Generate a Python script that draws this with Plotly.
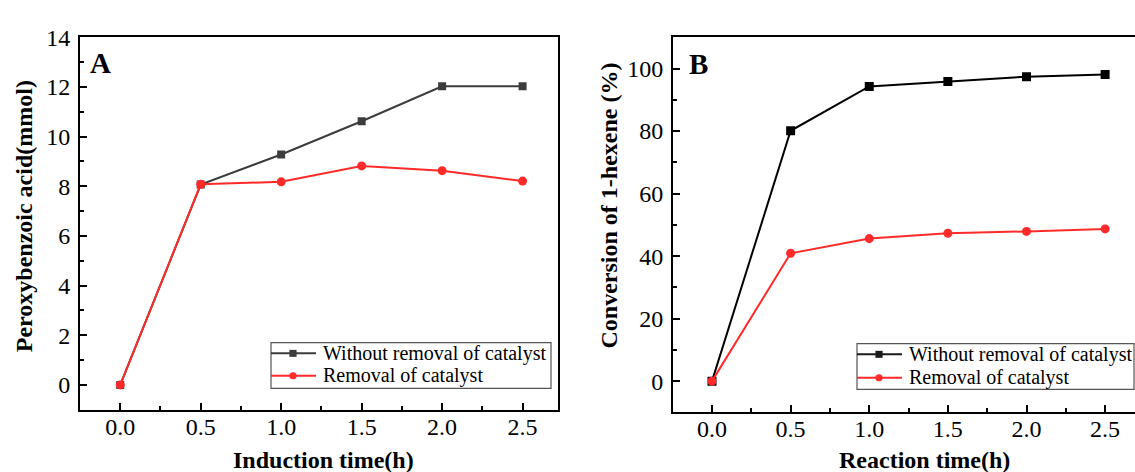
import plotly.graph_objects as go

# Panel A: peroxybenzoic acid produced during induction
time_a = [0.0, 0.5, 1.0, 1.5, 2.0, 2.5]
acid_with_cat = [0.0, 8.07, 9.28, 10.62, 12.03, 12.03]
acid_removed = [0.0, 8.08, 8.18, 8.82, 8.63, 8.21]

# Panel B: 1-hexene conversion during reaction
time_b = [0.0, 0.5, 1.0, 1.5, 2.0, 2.5]
conv_with_cat = [0.0, 80.1, 94.3, 95.9, 97.4, 98.1]
conv_removed = [0.0, 40.9, 45.6, 47.3, 47.9, 48.7]

label_with = "Without removal of catalyst"
label_removed = "Removal of catalyst"

W, H = 1135, 472
SERIF = "Liberation Serif, Times New Roman, serif"
RED = "#ff2a2a"
GREY = "#3c3c3c"


def px(x):
    return x / W


def py(y):
    return 1 - y / H


fig = go.Figure()

# ---- panel A traces
fig.add_trace(go.Scatter(
    x=time_a, y=acid_with_cat, name=label_with, mode="lines+markers",
    line=dict(color=GREY, width=2), marker=dict(symbol="square", size=8, color=GREY),
    xaxis="x", yaxis="y"))
fig.add_trace(go.Scatter(
    x=time_a, y=acid_removed, name=label_removed, mode="lines+markers",
    line=dict(color=RED, width=2), marker=dict(symbol="circle", size=9, color=RED),
    xaxis="x", yaxis="y"))

# ---- panel B traces
fig.add_trace(go.Scatter(
    x=time_b, y=conv_with_cat, name=label_with, mode="lines+markers",
    line=dict(color="black", width=2), marker=dict(symbol="square", size=9, color="black"),
    xaxis="x2", yaxis="y2"))
fig.add_trace(go.Scatter(
    x=time_b, y=conv_removed, name=label_removed, mode="lines+markers",
    line=dict(color=RED, width=2), marker=dict(symbol="circle", size=9, color=RED),
    xaxis="x2", yaxis="y2"))

tickfont = dict(family=SERIF, size=24, color="black")


def xaxis_style(domain, rng, anchor):
    return dict(
        domain=domain, range=rng, anchor=anchor,
        tick0=0, dtick=0.5, tickformat=".1f",
        ticks="inside", ticklen=7, tickwidth=1.5, tickcolor="black",
        minor=dict(ticks="inside", ticklen=4, tickwidth=1.5, tickcolor="black", dtick=0.25, tick0=0),
        showline=True, linecolor="black", linewidth=2, mirror=True,
        showgrid=False, zeroline=False, tickfont=tickfont, ticklabelstandoff=-6,
    )


def yaxis_style(domain, rng, anchor, dtick, minor_dtick, mirror):
    return dict(
        domain=domain, range=rng, anchor=anchor,
        tick0=0, dtick=dtick,
        ticks="inside", ticklen=7, tickwidth=1.5, tickcolor="black",
        minor=dict(ticks="inside", ticklen=4, tickwidth=1.5, tickcolor="black", dtick=minor_dtick, tick0=0),
        showline=True, linecolor="black", linewidth=2, mirror=mirror,
        showgrid=False, zeroline=False, tickfont=tickfont, ticklabelstandoff=3,
    )


fig.update_layout(
    width=W, height=H,
    margin=dict(l=0, r=0, t=0, b=0),
    paper_bgcolor="white", plot_bgcolor="white",
    xaxis=xaxis_style([px(80), px(558)], [-0.25, 2.72], "y"),
    yaxis=yaxis_style([py(408), py(25)], [-1, 14], "x", 2, 1, True),
    xaxis2=xaxis_style([px(673), 1.0], [-0.248, 2.69], "y2"),
    yaxis2=yaxis_style([py(410.7), py(25)], [-10, 110], "x2", 20, 10, False),
    showlegend=False,
)

title_font = dict(family=SERIF, size=24, color="black")
legend_font = dict(family=SERIF, size=20, color="black")
bold = lambda s: f"<b>{s}</b>"

annotations = [
    # axis titles
    dict(text=bold("Induction time(h)"), x=px(323), y=py(460), font=title_font),
    dict(text=bold("Reaction time(h)"), x=px(924), y=py(460), font=title_font),
    dict(text=bold("Peroxybenzoic acid(mmol)"), x=px(24), y=py(209), textangle=-90, font=title_font),
    dict(text=bold("Conversion of 1-hexene (%)"), x=px(609), y=py(198), textangle=-90, font=title_font),
    # panel letters
    dict(text=bold("A"), x=px(100), y=py(51), font=dict(family=SERIF, size=29, color="black")),
    dict(text=bold("B"), x=px(698), y=py(52), font=dict(family=SERIF, size=29, color="black")),
]
for a in annotations:
    a.update(xref="paper", yref="paper", xanchor="center", yanchor="middle", showarrow=False)

shapes = []


# Boxed key for each panel: a sample line with its marker, then the series name
def add_key(left, right, top, bottom, rows):
    shapes.append(dict(type="rect", xref="paper", yref="paper",
                       x0=px(left), x1=px(right), y0=py(bottom), y1=py(top),
                       line=dict(color="#555555", width=1.2), fillcolor="white", layer="above"))
    for (row_y, color, symbol, text) in rows:
        shapes.append(dict(type="line", xref="paper", yref="paper",
                           x0=px(left), x1=px(left + 45), y0=py(row_y), y1=py(row_y),
                           line=dict(color=color, width=2), layer="above"))
        cx, r = left + 22, 3.6
        shapes.append(dict(type="rect" if symbol == "square" else "circle",
                           xref="paper", yref="paper",
                           x0=px(cx - r), x1=px(cx + r), y0=py(row_y + r), y1=py(row_y - r),
                           line=dict(color=color, width=0), fillcolor=color, layer="above"))
        annotations.append(dict(text=text, x=px(left + 50), y=py(row_y), xref="paper", yref="paper",
                                xanchor="left", yanchor="middle", showarrow=False, font=legend_font))


add_key(271, 551, 339, 386, [(350, GREY, "square", label_with),
                             (373, RED, "circle", label_removed)])
add_key(857, 1134, 340, 387, [(351, "#1a1a1a", "square", label_with),
                              (375, RED, "circle", label_removed)])

fig.update_layout(annotations=annotations, shapes=shapes)

fig.write_html("out.html")
